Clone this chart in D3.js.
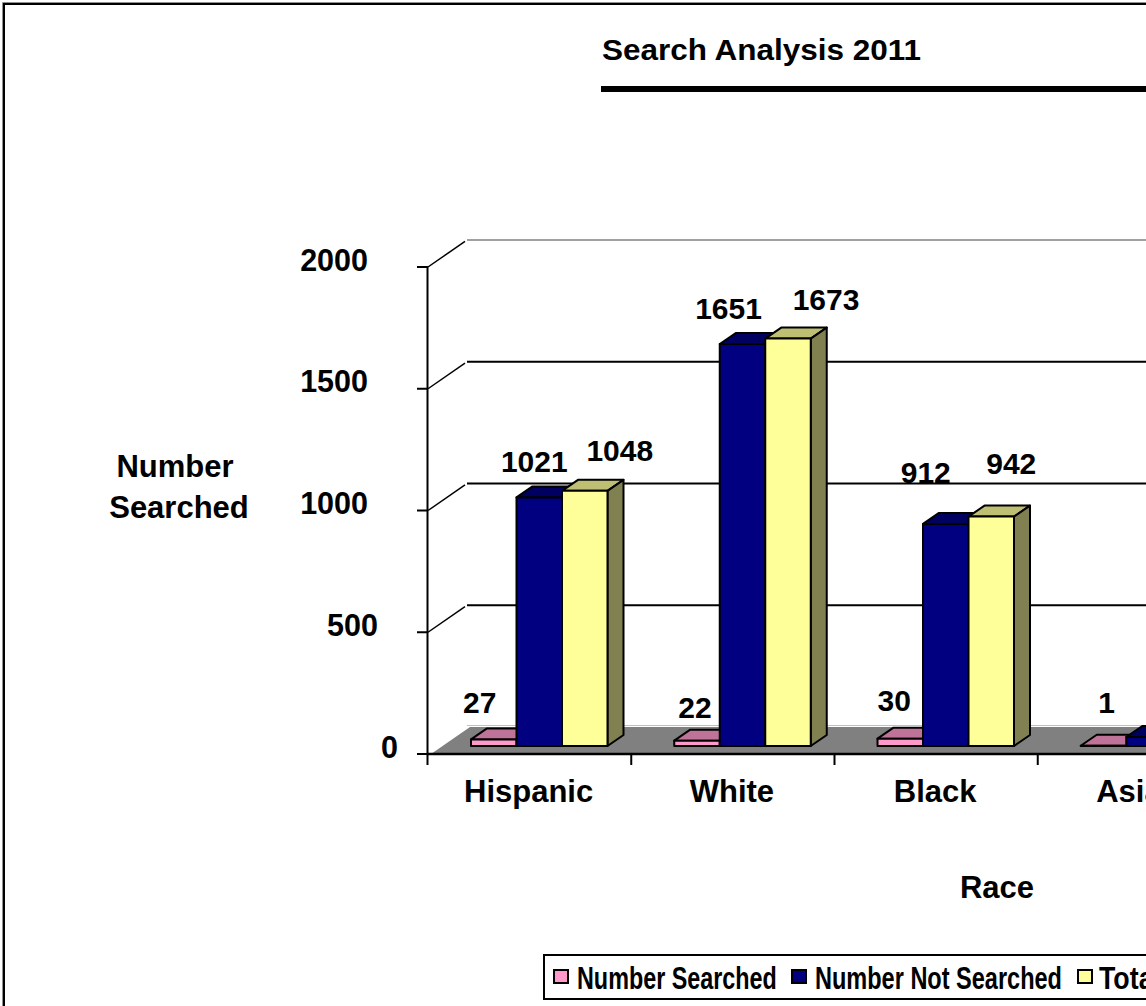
<!DOCTYPE html>
<html>
<head>
<meta charset="utf-8">
<script src="https://cdn.jsdelivr.net/npm/d3@7"></script>
<style>
    html, body { margin: 0; padding: 0; background: #fff; overflow: hidden; }
    svg { display: block; }
    text { font-family: "Liberation Sans", Arial, sans-serif; font-weight: bold; fill: #000; }
</style>
</head>
<body>
<div id="chart"></div>
<script>
(function () {
    'use strict';
    var categories = ['Hispanic', 'White', 'Black', 'Asian'];
    var seriesNames = ['Number Searched', 'Number Not Searched', 'Total'];
    var numberSearched = [27, 22, 30, 1];
    var numberNotSearched = [1021, 1651, 912, 37];
    var totalSearched = [1048, 1673, 942, 38];
    var yTicks = [0, 500, 1000, 1500, 2000];

    var W = 1146, H = 1006,
        front = {x0: 428, x1: 1241, y0: 754, y1: 267},
        wall = {dx: 39, dy: -27},
        barDepth = {dx: 16, dy: -11},
        barBase = 746, barW = 45.5, barInset = 43,
        colors = [
            {face: '#ff99cc', top: '#bf7399', side: '#bf7399'},
            {face: '#000080', top: '#000060', side: '#000060'},
            {face: '#ffff99', top: '#bfbf73', side: '#808050'}
        ],
        tickRight = [398, 378, 368, 368, 368],
        // hand placed labels in the original, offsets from the bar top middle
        labelNudge = [
            [[-14, -26], [-5, -25], [35, -30]],
            [[-2, -23], [-14, -25], [38, -29]],
            [[-6, -28], [-20, -41], [20, -43]],
            [[3, -33], [0, 0], [0, 0]]
        ],
        legendBox = [553, 791, 1077],
        legendText = [577, 815, 1099],
        legendWidth = [200, 247, 62];

    var svg = d3.select('#chart').append('svg').attr('width', W).attr('height', H);
    var x = d3.scaleBand().domain(categories).range([front.x0, front.x1]);
    var y = d3.scaleLinear().domain([0, 2000]).range([front.y0, front.y1]);
    var h = function (v) { return front.y0 - y(v); };

    function poly(pts, fill, stroke, sw) {
        return svg.append('polygon')
            .attr('points', pts.map(function (p) { return p.join(','); }).join(' '))
            .attr('fill', fill)
            .attr('stroke', stroke || 'none')
            .attr('stroke-width', sw || 0)
            .attr('stroke-linejoin', 'round');
    }

    function addText(tx, ty, str, size, anchor) {
        return svg.append('text').attr('x', tx).attr('y', ty)
            .attr('font-size', size).attr('text-anchor', anchor || 'middle').text(str);
    }

    // start anchored text squeezed or stretched to a given width
    function fitText(tx, ty, str, size, width) {
        var t = addText(0, 0, str, size, 'start');
        t.attr('transform', 'translate(' + [tx, ty] + ') scale(' + (width / t.node().getComputedTextLength()) + ',1)');
        return t;
    }

    // frame, only top and left are inside the picture
    svg.append('path').attr('d', 'M' + W + ',2.5H2.5V' + H).attr('fill', 'none')
        .attr('stroke', '#909090').attr('stroke-width', 1);
    svg.append('path').attr('d', 'M' + W + ',4H4V' + H).attr('fill', 'none')
        .attr('stroke', '#000').attr('stroke-width', 2);

    // title
    fitText(602, 60, 'Search Analysis 2011', 29.5, 319);
    svg.append('rect').attr('x', 601).attr('y', 86).attr('width', W - 601).attr('height', 6).attr('fill', '#000');

    // back wall gridlines and the diagonal ones on the side wall
    yTicks.forEach(function (t) {
        if (t > 0) {
            svg.append('line').attr('x1', front.x0).attr('y1', y(t))
                .attr('x2', front.x0 + wall.dx - 2).attr('y2', y(t) + wall.dy + 1.4)
                .attr('stroke', '#000').attr('stroke-width', 1.5);
            svg.append('line').attr('x1', front.x0 + wall.dx).attr('y1', y(t) + wall.dy)
                .attr('x2', W).attr('y2', y(t) + wall.dy)
                .attr('stroke', t === 2000 ? '#808080' : '#000').attr('stroke-width', t === 2000 ? 1.5 : 2);
        }
    });

    // floor
    svg.append('line').attr('x1', front.x0 + wall.dx).attr('y1', y(0) + wall.dy - 1.5)
        .attr('x2', W).attr('y2', y(0) + wall.dy - 1.5).attr('stroke', '#c0c0c0').attr('stroke-width', 1);
    poly([[front.x0 + 3, y(0)], [front.x0 + wall.dx + 3, y(0) + wall.dy], [W + 5, y(0) + wall.dy], [W + 5, y(0)]], '#808080');

    // axes
    svg.append('line').attr('x1', front.x0 - 0.5).attr('y1', y(2000)).attr('x2', front.x0 - 0.5).attr('y2', y(0) + 11)
        .attr('stroke', '#000').attr('stroke-width', 2);
    svg.append('line').attr('x1', front.x0 - 1).attr('y1', y(0)).attr('x2', W).attr('y2', y(0))
        .attr('stroke', '#000').attr('stroke-width', 2.5);
    categories.forEach(function (c, i) {
        if (i > 0) {
            svg.append('line').attr('x1', x(c)).attr('y1', y(0)).attr('x2', x(c)).attr('y2', y(0) + 11)
                .attr('stroke', '#000').attr('stroke-width', 2);
        }
    });
    yTicks.forEach(function (t, i) {
        svg.append('line').attr('x1', front.x0 - 11).attr('y1', y(t)).attr('x2', front.x0).attr('y2', y(t))
            .attr('stroke', '#000').attr('stroke-width', 2);
        addText(tickRight[i], y(t) + 3.5, String(t), 30.5, 'end');
    });

    // bars, back to front in series order
    [numberSearched, numberNotSearched, totalSearched].forEach(function (vals, s) {
        var c = colors[s];
        vals.forEach(function (v, i) {
            var x0 = x(categories[i]) + barInset + s * barW,
                x1 = x0 + barW,
                top = barBase - h(v),
                d = barDepth;
            poly([[x0, top], [x0 + d.dx, top + d.dy], [x1 + d.dx, top + d.dy], [x1, top]], c.top, '#000', 2);
            poly([[x1, top], [x1 + d.dx, top + d.dy], [x1 + d.dx, barBase + d.dy], [x1, barBase]], c.side, '#000', 2);
            poly([[x0, top], [x1, top], [x1, barBase], [x0, barBase]], c.face, '#000', 2);
        });
    });

    // value labels go on top of all the bars
    [numberSearched, numberNotSearched, totalSearched].forEach(function (vals, s) {
        vals.forEach(function (v, i) {
            if (i === 3 && s > 0) { return; }
            var n = labelNudge[i][s],
                mid = x(categories[i]) + barInset + s * barW + barW / 2;
            addText(mid + n[0], barBase - h(v) + n[1], String(v), 30);
        });
    });

    // category and axis titles
    categories.forEach(function (c) {
        addText(x(c) + x.bandwidth() / 2 - 1, 802, c, 31);
    });
    addText(175, 477, 'Number', 31);
    addText(179, 518, 'Searched', 31);
    addText(997, 898, 'Race', 31);

    // legend
    svg.append('rect').attr('x', 544).attr('y', 955).attr('width', W).attr('height', 44)
        .attr('fill', '#fff').attr('stroke', '#000').attr('stroke-width', 2);
    seriesNames.forEach(function (name, s) {
        svg.append('rect').attr('x', legendBox[s] + 1).attr('y', 970).attr('width', 14).attr('height', 13)
            .attr('fill', colors[s].face).attr('stroke', '#000').attr('stroke-width', 2);
        fitText(legendText[s], 989, name, 32, legendWidth[s]);
    });
}());
</script>
</body>
</html>
